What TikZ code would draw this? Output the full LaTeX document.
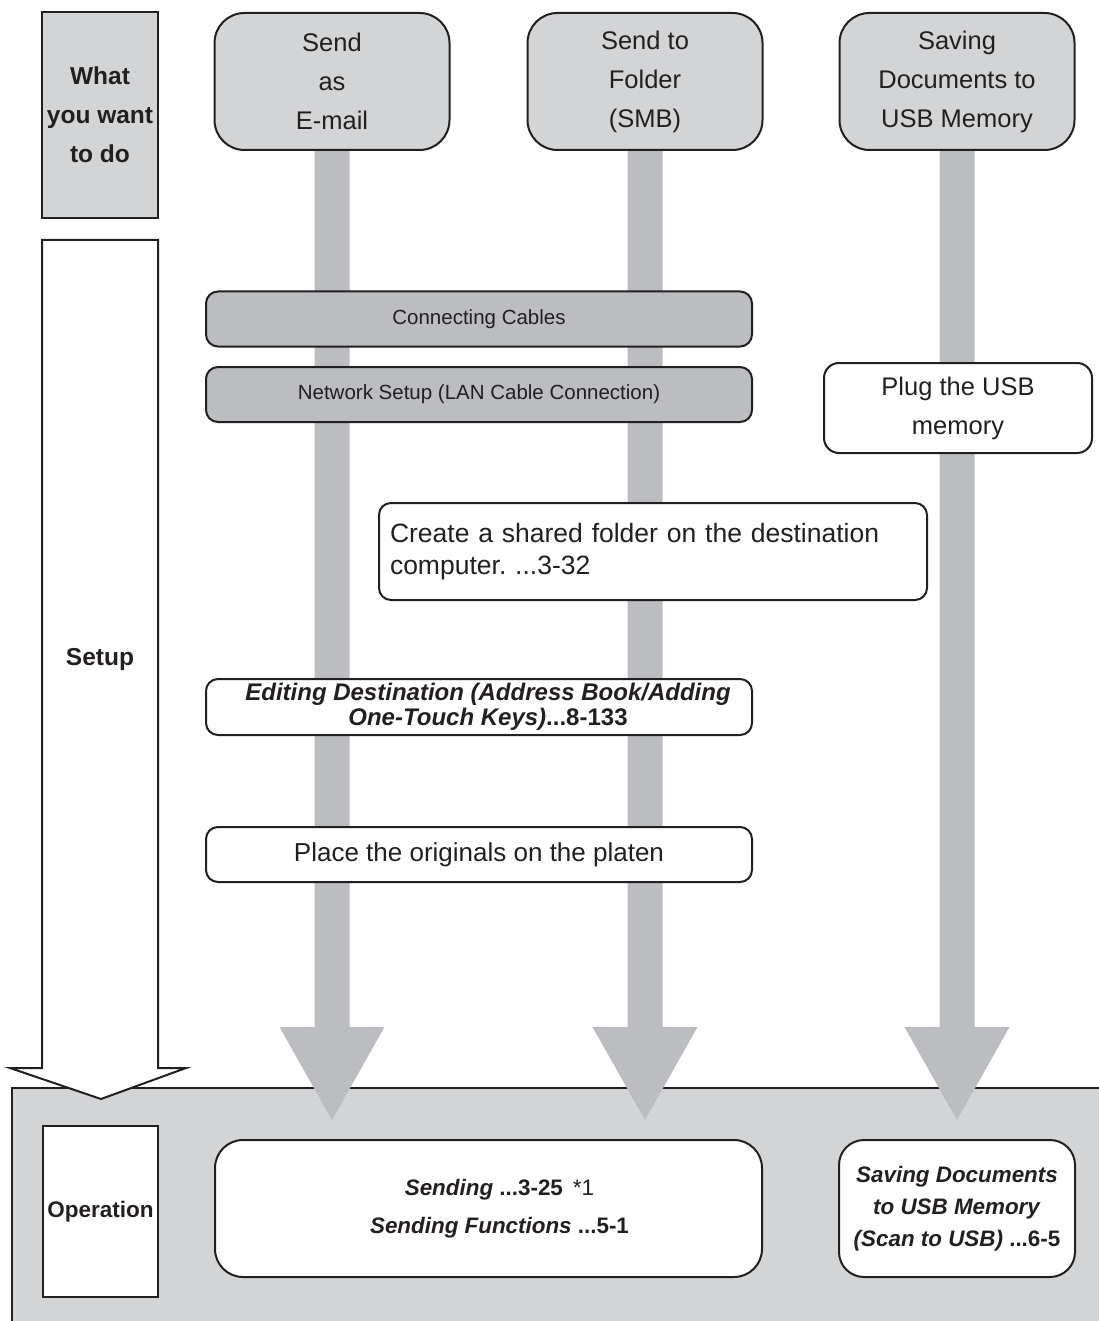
\documentclass[tikz,border=0pt]{standalone}
\usepackage{fontspec}
\setmainfont{Liberation Sans}
\usetikzlibrary{backgrounds}
\definecolor{boxgray}{RGB}{211,212,214}
\definecolor{shaftgray}{RGB}{188,189,193}
\definecolor{ink}{RGB}{35,31,32}
\frenchspacing
\begin{document}
\begin{tikzpicture}[x=1pt,y=-1pt,
  base/.style={draw=ink, text=ink, line width=2pt, align=center, inner sep=0pt},
  topbox/.style={base, fill=boxgray, rounded corners=30pt, minimum width=235pt, minimum height=137pt,
    font=\fontsize{25.5}{39}\selectfont},
  graystep/.style={base, fill=shaftgray, rounded corners=12pt, minimum width=546pt, minimum height=55pt,
    font=\fontsize{20.5}{24}\selectfont},
  whitestep/.style={base, fill=white, rounded corners=12pt, minimum width=546pt, minimum height=55pt,
    font=\fontsize{26}{32}\selectfont},
  labelbox/.style={base, rounded corners=0pt, font=\bfseries\fontsize{24.5}{39}\selectfont},
  opbox/.style={base, fill=white, font=\fontsize{22.4}{38}\selectfont},
  shaft/.style={fill=shaftgray, draw=none}
]
\path[use as bounding box] (0,0) rectangle (1099,1321);

% header row
\node[labelbox, fill=boxgray, minimum width=116pt, minimum height=206pt] (what) at (100,115) {What\\you want\\to do};
\node[topbox] (email) at (332,81.5) {Send\\as\\E-mail};
\node[topbox] (folder) at (645,81.5) {Send to\\Folder\\(SMB)};
\node[topbox] (usb) at (957,81.5) {Saving\\Documents to\\USB Memory};

% setup steps
\node[graystep] (cables) at (479,319) {Connecting Cables};
\node[graystep] (network) at (479,394.5) {Network Setup (LAN Cable Connection)};
\node[whitestep, rounded corners=15pt, minimum width=268pt, minimum height=90pt,
  font=\fontsize{25.5}{39}\selectfont] (plug) at (958,408) {Plug the USB\\memory};
\node[whitestep, align=left, text width=526pt, inner xsep=11pt, minimum height=97pt,
  font=\fontsize{26.5}{32}\selectfont] (share) at (653,551.5)
  {Create a shared folder on the destination\\computer. ...3-32};
\node[whitestep, minimum height=56pt, font=\fontsize{24}{25}\selectfont] (editing) at (479,707)
  {\hspace*{18pt}\textbf{\textit{Editing Destination (Address Book/Adding}}\\
   \hspace*{18pt}\textbf{\textit{One-Touch Keys)}}\textbf{...8-133}};
\node[whitestep] (place) at (479,854.5) {Place the originals on the platen};

\node[text=ink, font=\bfseries\fontsize{24.5}{30}\selectfont, inner sep=0pt] (setup) at (100,659) {Setup};

% operation area
\node[labelbox, fill=white, minimum width=115pt, minimum height=171pt,
  font=\bfseries\fontsize{22.5}{28}\selectfont] (operation) at (100.5,1211.5) {Operation};
\node[opbox, rounded corners=28pt, minimum width=547pt, minimum height=137pt] (sending) at (488.5,1208.5)
  {\hspace*{22pt}\textbf{\textit{Sending}} \textbf{...3-25}\hspace{0.45em}*1\\
   \hspace*{22pt}\textbf{\textit{Sending Functions}} \textbf{...5-1}};
\node[opbox, rounded corners=25pt, minimum width=236pt, minimum height=137pt,
  font=\fontsize{22.4}{32}\selectfont] (scanusb) at (957,1208.5)
  {\textbf{\textit{Saving Documents}}\\\textbf{\textit{to USB Memory}}\\\textbf{\textit{(Scan to USB)}} \textbf{...6-5}};

\coordinate (tip1) at (332,1120);
\coordinate (tip2) at (645,1120);
\coordinate (tip3) at (957,1120);

\begin{pgfonlayer}{background}
  % operation background panel
  \draw[draw=ink, line width=2pt, fill=boxgray] (12,1088) rectangle (1120,1340);
  % flow shafts with heads
  \foreach \n/\t in {email/tip1, folder/tip2, usb/tip3}{
    \fill[shaft] ([xshift=-17.5pt]\n.center) -- ([xshift=17.5pt]\n.center)
      -- ([xshift=17.5pt,yshift=93pt]\t) -- ([xshift=52.5pt,yshift=93pt]\t) -- (\t)
      -- ([xshift=-52.5pt,yshift=93pt]\t) -- ([xshift=-17.5pt,yshift=93pt]\t) -- cycle;
  }
  % setup hollow arrow
  \draw[draw=ink, fill=white, line width=2pt, line join=miter]
    (42,240) -- (158,240) -- (158,1068) -- (186,1068) -- (101,1099) -- (10,1068) -- (42,1068) -- cycle;
\end{pgfonlayer}
\end{tikzpicture}
\end{document}
